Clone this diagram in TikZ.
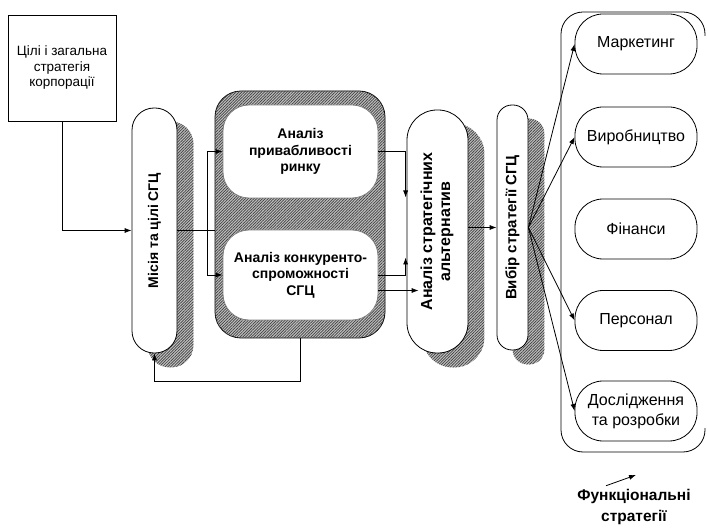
\documentclass[tikz,border=0pt]{standalone}
\usepackage{fontspec}
\setmainfont{Liberation Sans}
\usepackage{graphicx}
\usetikzlibrary{calc,positioning,backgrounds,patterns.meta,arrows.meta}
\tikzset{
	hatch/.style={
		fill=gray!50,
		postaction={
			pattern={Lines[angle=45,distance=2pt,line width=0.7pt]},
			pattern color=black!75
		}
	},
	link/.style={
		->,
		line width=0.8pt
	}
}

\begin{document}
\begin{tikzpicture}[
					x=1pt,y=-1pt,
					box/.style={
						rectangle,
						draw=black, line width=0.8pt,
						fill=white,
						align=center,
						inner sep=2pt
					},
					pill/.style={box,rounded corners=#1},
					plain/.style={font=\fontsize{13.5}{15.5}\selectfont},
					heavy/.style={font=\fontsize{#1}{18}\selectfont\bfseries},
					inner/.style={font=\fontsize{14}{16.5}\selectfont\bfseries},
					func/.style={
						pill=28pt,
						minimum width=122pt,
						minimum height=60pt,
						font=\fontsize{16}{19}\selectfont
					},
					>={Latex[length=7pt,width=5pt]}]

					%%% Page
					\useasboundingbox (0,0) rectangle (707,529);

					%%% Nodes
					%% Left hand side
					\node at (62,68) [box,plain,minimum width=108pt,minimum height=106pt] (goals) {Цілі і загальна\\стратегія\\корпорації};
					\node at (154.5,230.5) [pill=22pt,heavy=14,minimum width=45pt,minimum height=245pt,inner sep=0pt] (mission) {\rotatebox{90}{Місія та цілі СГЦ}};

					%% Center
					\node at (300,214.5) [box,hatch,rounded corners=26pt,minimum width=170pt,minimum height=247pt] (analysis) {};
					\node at (300.5,151.5) [pill=26pt,draw=gray,inner,minimum width=155pt,minimum height=93pt] (attract) {Аналіз\\привабливості\\ринку};
					\node at (300.5,275) [pill=26pt,draw=gray,inner,minimum width=155pt,minimum height=90pt] (compete) {Аналіз конкуренто-\\спроможності\\СГЦ};

					%% Right hand side
					\node at (437.5,231.5) [pill=30pt,heavy=16,minimum width=61pt,minimum height=243pt,inner sep=0pt] (alternatives) {\rotatebox{90}{\begin{tabular}{@{}c@{}}Аналіз стратегічних\\альтернатив\end{tabular}}};
					\node at (512.5,227.5) [pill=15pt,heavy=15,minimum width=31pt,minimum height=245pt,inner sep=0pt] (choice) {\rotatebox{90}{Вибір стратегії СГЦ}};

					%% Functional strategies
					\node at (636,44) [func] (marketing) {Маркетинг};
					\node at (636,137) [func] (production) {Виробництво};
					\node at (636,229) [func] (finance) {Фінанси};
					\node at (636,320.5) [func] (personnel) {Персонал};
					\node at (636,411) [func,font=\fontsize{16}{20}\selectfont] (research) {Дослідження\\та розробки};

					%%% Shadows
					\begin{scope}[on background layer]
						\foreach \n/\rad in {mission/22,alternatives/30,choice/15}
							\path[hatch,rounded corners=\rad pt]
								([shift={(16,14)}]\n.north west) rectangle ([shift={(16,14)}]\n.south east);
					\end{scope}

					%%% Connections
					%% Goals into mission
					\draw[link] (goals.south) |- (mission.west);

					%% Mission into both analyses
					\coordinate (fork) at ($(mission.east)+(30,0)$);
					\draw[line width=0.8pt] (mission.east) -- (mission.east -| analysis.west);
					\draw[link] (fork) |- (attract.west);
					\draw[link] (fork) |- (compete.west);

					%% Analyses into alternatives
					\coordinate (altin1) at ($(alternatives.west)+(-1,-34)$);
					\coordinate (altin2) at ($(alternatives.west)+(-1,26)$);
					\coordinate (altin3) at ($(alternatives.west)+(12,59)$);
					\draw[link] (attract.east) -| (altin1);
					\draw[link] (compete.east) -| (altin2);
					\draw[link] (compete.east |- altin3) -- (altin3);

					%% Alternatives into choice, choice into functions
					\draw[link] (alternatives.east |- choice.west) -- (choice.west);
					\foreach \f in {marketing,production,personnel,research}
						\draw[link] (choice.east) -- (\f.west);

					%% Feedback loop
					\draw[link] (analysis.south) -- ++(0,43) -| (mission.south);

					%%% Decorations
					%% Functional strategies frame (open on the right)
					\draw[line width=0.8pt,rounded corners=22pt]
						(705,36) -- (705,12) -- (561,12) -- (561,452) -- (705,452) -- (705,428);
					\node at (634,507) [align=center,font=\fontsize{15.5}{21}\selectfont\bfseries] (funclabel) {Функціональні\\стратегії};
					\coordinate (functip) at (636,475);
					\draw[link] ([xshift=-28pt]funclabel.north) -- (functip);
				\end{tikzpicture}
\end{document}
